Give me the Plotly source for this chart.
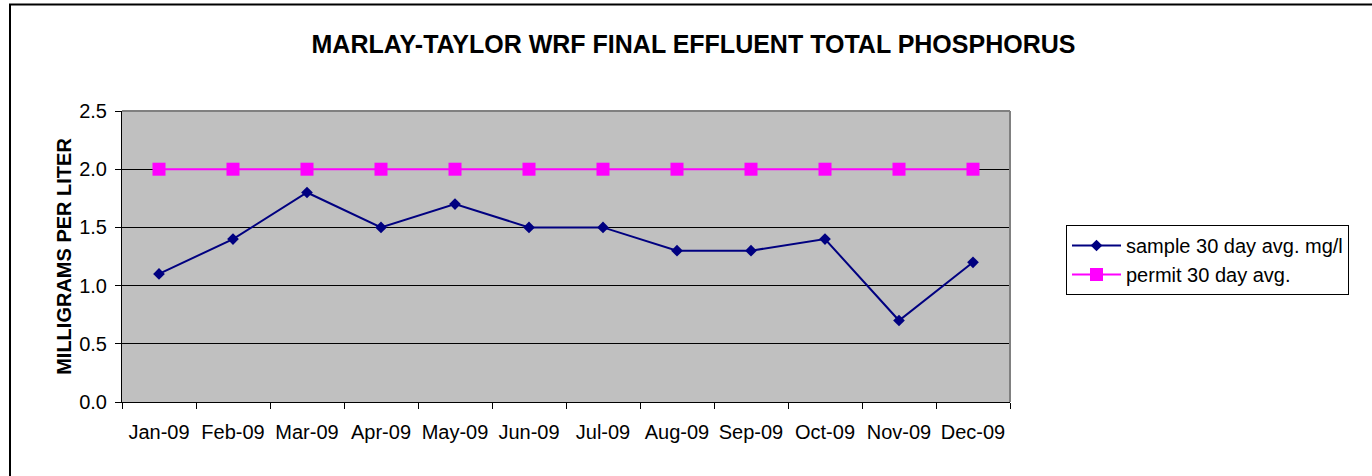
import plotly.graph_objects as go

months = ["Jan-09", "Feb-09", "Mar-09", "Apr-09", "May-09", "Jun-09",
          "Jul-09", "Aug-09", "Sep-09", "Oct-09", "Nov-09", "Dec-09"]
sample = [1.1, 1.4, 1.8, 1.5, 1.7, 1.5, 1.5, 1.3, 1.3, 1.4, 0.7, 1.2]
permit = [2.0] * 12
y_ticks = [0.0, 0.5, 1.0, 1.5, 2.0, 2.5]

FONT = "Liberation Sans, Arial, sans-serif"

fig = go.Figure()
fig.add_trace(go.Scatter(
    x=months, y=sample, mode="lines+markers", name="sample 30 day avg. mg/l",
    line=dict(color="#000080", width=2),
    marker=dict(symbol="diamond", size=9, color="#000080"),
))
fig.add_trace(go.Scatter(
    x=months, y=permit, mode="lines+markers", name="permit 30 day avg.",
    line=dict(color="#FF00FF", width=2),
    marker=dict(symbol="square", size=13, color="#FF00FF"),
))

fig.update_layout(
    width=1372, height=476,
    margin=dict(l=122, r=362, t=111, b=74, autoexpand=False),
    paper_bgcolor="white",
    plot_bgcolor="#C0C0C0",
    font=dict(family=FONT, size=20, color="black"),
    title=dict(text="<b>MARLAY-TAYLOR WRF FINAL EFFLUENT TOTAL PHOSPHORUS</b>",
               x=693.5 / 1372, xanchor="center", xref="container",
               y=1 - 44 / 476, yanchor="middle", yref="container",
               font=dict(family=FONT, size=25, color="black")),
    showlegend=True,
    legend=dict(x=(1066 - 122) / 888, xanchor="left",
                y=(402 - 225) / 291, yanchor="top",
                bordercolor="black", borderwidth=1, bgcolor="white",
                font=dict(family=FONT, size=20, color="black"),
                tracegroupgap=0, itemwidth=49),
)

fig.update_xaxes(
    type="category", range=[-0.5, 11.5], automargin=False,
    showgrid=False, showline=True, linecolor="black", linewidth=1,
    ticks="outside", tickson="boundaries", ticklen=6, tickcolor="black",
    tickangle=0, ticklabelstandoff=12,
    tickfont=dict(family=FONT, size=20, color="black"),
    zeroline=False, fixedrange=True,
)
fig.update_yaxes(
    range=[0, 2.5], tickvals=y_ticks, tickformat=".1f", automargin=False,
    showgrid=True, gridcolor="black", gridwidth=1,
    showline=True, linecolor="black", linewidth=1,
    ticks="outside", ticklen=6, tickcolor="black", ticklabelstandoff=4,
    tickfont=dict(family=FONT, size=20, color="black"),
    zeroline=False,
    title=dict(text="<b>MILLIGRAMS PER LITER</b>", standoff=2,
               font=dict(family=FONT, size=20, color="black")),
)

# gray top and right borders of plot area
fig.add_shape(type="line", xref="paper", yref="paper", x0=0, x1=1, y0=1, y1=1,
              line=dict(color="#808080", width=2), layer="above")
fig.add_shape(type="line", xref="paper", yref="paper", x0=1, x1=1, y0=0, y1=1,
              line=dict(color="#808080", width=2), layer="above")
# outer chart border (extends past the visible canvas on right/bottom)
fig.add_shape(type="rect", xref="paper", yref="paper",
              x0=(10 - 122) / 888, x1=2.0, y0=-2.0, y1=(402 - 4.5) / 291,
              line=dict(color="black", width=2), fillcolor="rgba(0,0,0,0)",
              layer="above")

fig.write_html("out.html",
               config={"displayModeBar": False},
               post_script="document.body.style.margin='0';")
